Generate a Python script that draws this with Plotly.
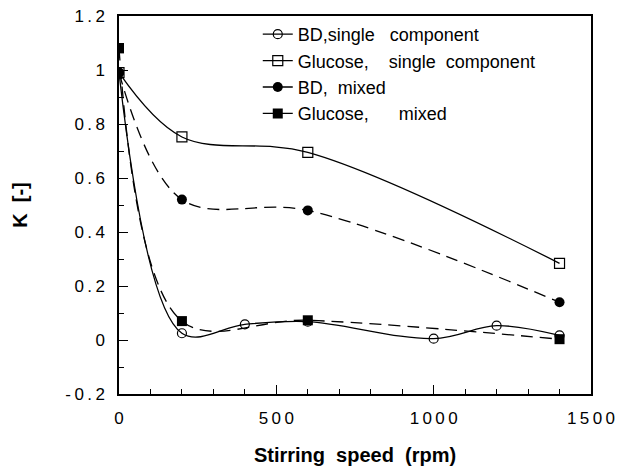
import plotly.graph_objects as go

speed_bd_single = [0, 200, 400, 600, 1000, 1200, 1400]
k_bd_single = [0.99, 0.025, 0.058, 0.068, 0.005, 0.053, 0.017]

speed_glu_single = [0, 200, 600, 1400]
k_glu_single = [0.99, 0.752, 0.695, 0.284]

speed_bd_mixed = [0, 200, 600, 1400]
k_bd_mixed = [0.99, 0.52, 0.48, 0.14]

speed_glu_mixed = [0, 200, 600, 1400]
k_glu_mixed = [1.08, 0.07, 0.073, 0.003]

x_ticks = [0, 500, 1000, 1500]
x_tick_text = ["0", "500", "1000", "1500"]
y_ticks = [-0.2, 0, 0.2, 0.4, 0.6, 0.8, 1, 1.2]
y_tick_text = ["-0.2", "0", "0.2", "0.4", "0.6", "0.8", "1", "1.2"]

TS = "\u2009"  # thin space, imitates the letter-spaced tick font


def spaced(s):
    return TS.join(list(s))


fig = go.Figure()
lw = 1.3
dash = "12px,7px"
fig.add_trace(go.Scatter(
    x=speed_bd_single, y=k_bd_single, name="BD,single   component",
    mode="lines+markers", line=dict(color="black", width=lw, shape="spline", smoothing=1.0),
    marker=dict(symbol="circle-open", size=9, color="black", line=dict(width=1.2))))
fig.add_trace(go.Scatter(
    x=speed_glu_single, y=k_glu_single, name="Glucose,    single  component",
    mode="lines+markers", line=dict(color="black", width=lw, shape="spline", smoothing=1.0),
    marker=dict(symbol="square-open", size=10, color="black", line=dict(width=1.2))))
fig.add_trace(go.Scatter(
    x=speed_bd_mixed, y=k_bd_mixed, name="BD,  mixed",
    mode="lines+markers", line=dict(color="black", width=lw, dash=dash, shape="spline", smoothing=1.0),
    marker=dict(symbol="circle", size=10, color="black")))
fig.add_trace(go.Scatter(
    x=speed_glu_mixed, y=k_glu_mixed, name="Glucose,      mixed",
    mode="lines+markers", line=dict(color="black", width=lw, dash=dash, shape="spline", smoothing=1.0),
    marker=dict(symbol="square", size=10, color="black")))

axis_common = dict(
    showline=True, linecolor="black", linewidth=1.5, mirror=True,
    ticks="inside", ticklen=9, tickwidth=1.3, tickcolor="black",
    showgrid=False, zeroline=False, automargin=False,
    tickfont=dict(family="Liberation Sans, Arial", size=17, color="black"),
)

fig.update_layout(
    width=620, height=468,
    margin=dict(l=119, r=29, t=16, b=74),
    paper_bgcolor="white", plot_bgcolor="white",
    font=dict(family="Liberation Sans, Arial", color="black"),
    showlegend=True,
    legend=dict(x=0.294, y=1.0, xanchor="left", yanchor="top",
                bgcolor="rgba(0,0,0,0)", font=dict(size=18, color="black"),
                itemwidth=30, tracegroupgap=0),
    xaxis=dict(range=[0, 1500], tickvals=x_ticks, ticktext=[spaced(t) for t in x_tick_text],
               ticklabelstandoff=8,
               minor=dict(dtick=100, ticks="inside", ticklen=5, tickwidth=1.2, tickcolor="black"),
               title=dict(text="<b>Stirring  speed  (rpm)</b>", font=dict(size=20), standoff=21),
               **axis_common),
    yaxis=dict(range=[-0.2, 1.2], tickvals=y_ticks, ticktext=[spaced(t) for t in y_tick_text],
               ticklabelstandoff=9,
               minor=dict(dtick=0.1, ticks="inside", ticklen=5, tickwidth=1.2, tickcolor="black"),
               title=dict(text="<b>K  [-]</b>", font=dict(size=20), standoff=32),
               **axis_common),
)

fig.write_html("out.html")
